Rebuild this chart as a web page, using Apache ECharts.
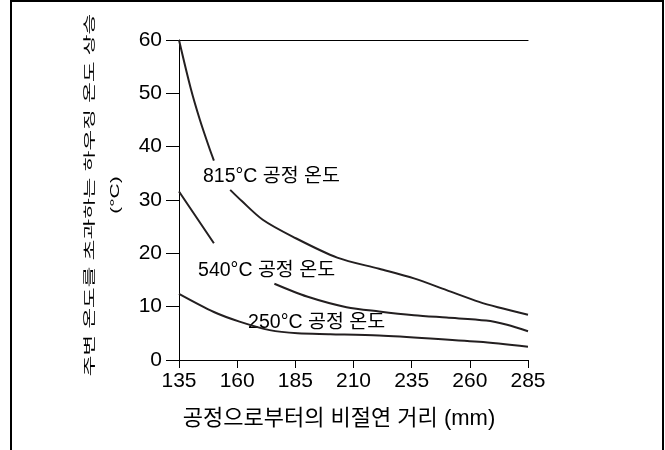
<!DOCTYPE html>
<html lang="ko">

<head>
    <meta charset="UTF-8">
    <title>하우징 온도 상승</title>
    <script src="https://cdn.jsdelivr.net/npm/echarts@6/dist/echarts.min.js"></script>
    <style>
        * {
            margin: 0;
            padding: 0;
        }
        body {
            background-color: #fff;
        }
        .frame {
            position: absolute;
            left: 10px;
            top: 0;
            width: 654px;
            height: 470px;
            border: 2px solid #000;
            box-sizing: border-box;
        }
        #box {
            position: absolute;
            left: 0;
            top: 0;
            width: 665px;
            height: 450px;
        }
    </style>
</head>

<body>
    <div id="box"></div>
    <div class="frame"></div>
    <script>
        // 눈금
        var xTicks = [135, 160, 185, 210, 235, 260, 285];
        var yTicks = [0, 10, 20, 30, 40, 50, 60];

        // 곡선 (null = 라벨 자리 끊김)
        var curve815 = [[135, 60], [140, 51], [144, 45], [148, 39.8], [150, 37.4], null,
            [157, 31.9], [162, 29.8], [171, 26.3], [184, 23.1], [203, 19.2], [221, 17.1],
            [236, 15.3], [250, 13.1], [264, 10.9], [272, 9.9], [285, 8.5]];
        var curve540 = [[135, 31.6], [150, 21.9], null,
            [176, 14.3], [190, 11.9], [207, 9.9], [221, 9.1], [236, 8.4], [250, 7.95],
            [267, 7.4], [276, 6.6], [285, 5.4]];
        var curve250 = [[135, 12.4], [150, 9.0], [161, 7.2], [174, 5.6], [186, 5.0],
            [200, 4.85], [221, 4.6], [243, 4.05], [264, 3.4], [285, 2.5]];

        // 곡선 라벨 (왼쪽 끝, 세로 중앙)
        var labelText = ['815°C 공정 온도', '540°C 공정 온도', '250°C 공정 온도'];
        var labelPos = [[145.3, 34.3], [143.2, 16.7], [164.7, 7.1]];

        var font = "'Liberation Sans', 'Noto Sans CJK KR', sans-serif";
        var ink = '#231f20';

        function line(data) {
            return {
                type: 'line',
                data: data,
                smooth: 0.3,
                symbol: 'none',
                connectNulls: false,
                lineStyle: { color: ink, width: 2 },
                silent: true
            };
        }

        var chart = echarts.init(document.querySelector('#box'));
        var option = {
            animation: false,
            grid: { left: 179, right: 137, top: 40, bottom: 90 },
            xAxis: [{
                type: 'value',
                min: 135,
                max: 285,
                axisLine: { show: true, lineStyle: { color: '#000', width: 1 } },
                axisTick: { show: true, length: 8, customValues: xTicks, lineStyle: { color: '#000' } },
                axisLabel: { customValues: xTicks, margin: 11, fontSize: 21, color: '#000', fontFamily: font },
                splitLine: { show: false }
            }, {
                type: 'value',
                position: 'top',
                min: 135,
                max: 285,
                axisLine: { show: true, lineStyle: { color: '#000', width: 1.2 } },
                axisTick: { show: false },
                axisLabel: { show: false },
                splitLine: { show: false }
            }],
            yAxis: {
                type: 'value',
                min: 0,
                max: 60,
                axisLine: { show: true, lineStyle: { color: '#000', width: 1 } },
                axisTick: { show: true, length: 13, customValues: yTicks, lineStyle: { color: '#000' } },
                axisLabel: { customValues: yTicks, margin: 17, fontSize: 21, color: '#000', fontFamily: font },
                splitLine: { show: false }
            },
            series: [line(curve815), line(curve540), line(curve250)]
        };
        chart.setOption(option);

        // 축 이름 + 곡선 라벨
        var g = [{
            type: 'text',
            x: 91, y: 195,
            rotation: Math.PI / 2,
            scaleY: 0.55,
            style: { text: '주변 온도를 초과하는 하우징 온도 상승', font: '22.5px ' + font, fill: '#000', align: 'center', verticalAlign: 'middle' }
        }, {
            type: 'text',
            x: 116, y: 195,
            rotation: Math.PI / 2,
            scaleY: 0.6,
            style: { text: '(°C)', font: '21px ' + font, fill: '#000', align: 'center', verticalAlign: 'middle' }
        }, {
            type: 'text',
            x: 339, y: 419,
            style: { text: '공정으로부터의 비절연 거리 (mm)', font: '22px ' + font, fill: '#000', align: 'center', verticalAlign: 'middle' }
        }];
        for (var i = 0; i < labelText.length; i++) {
            var p = chart.convertToPixel({ gridIndex: 0 }, labelPos[i]);
            g.push({
                type: 'text',
                x: p[0], y: p[1],
                style: { text: labelText[i], font: '19.5px ' + font, fill: '#000', align: 'left', verticalAlign: 'middle' }
            });
        }
        chart.setOption({ graphic: g });
    </script>
</body>

</html>
